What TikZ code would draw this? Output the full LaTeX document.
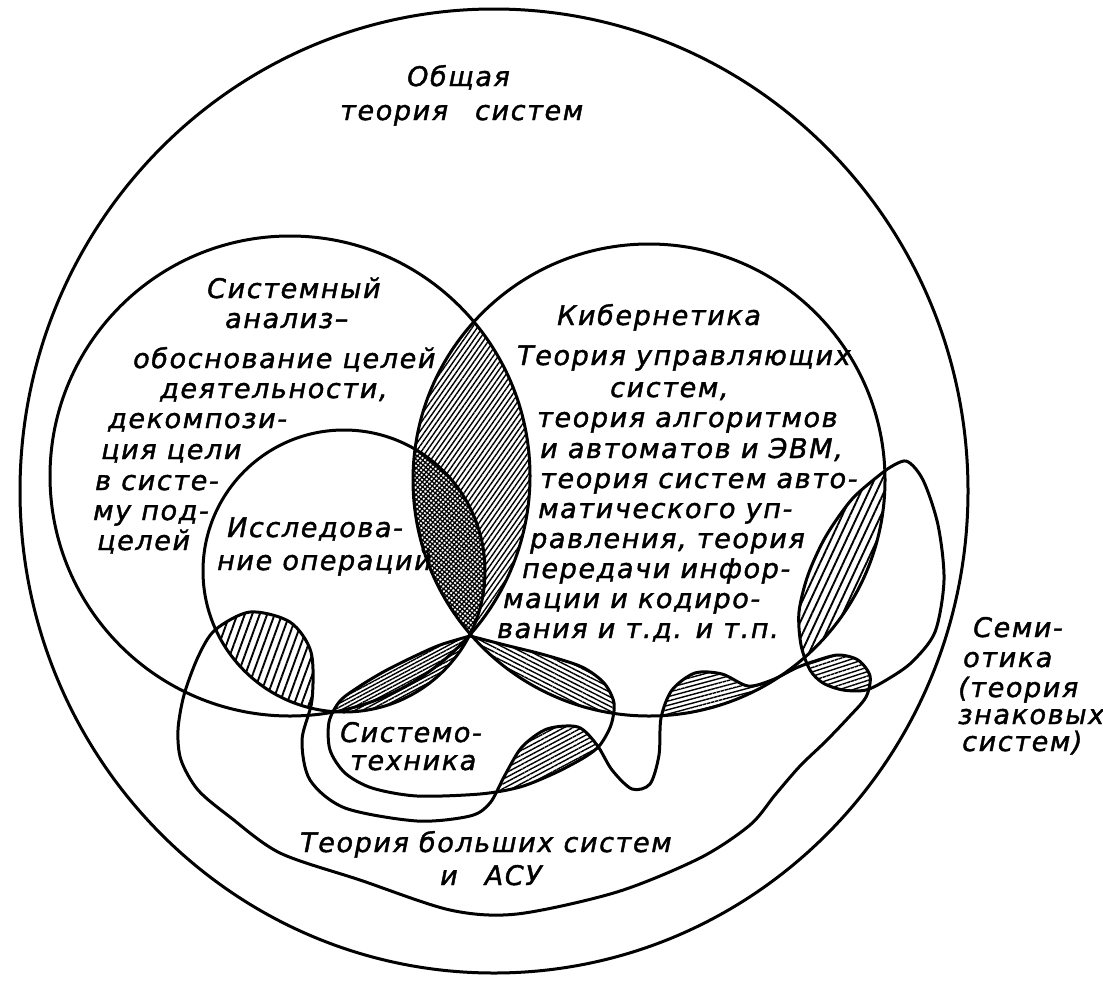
\documentclass[tikz,border=0pt]{standalone}
\usepackage{fontspec}
\setmainfont{DejaVu Sans}[LetterSpace=6,FakeBold=1.5]
\usetikzlibrary{patterns.meta}
\begin{document}
\begin{tikzpicture}[x=1pt,y=-1pt,
  curve/.style={line width=3pt, line join=round, line cap=round},
  lbl/.style={font=\fontsize{27}{30}\selectfont\itshape, inner sep=0pt, anchor=base west},
  hA/.style={pattern={Lines[angle=55,distance=4.2pt,line width=1.4pt]}},
  hXa/.style={pattern={Lines[angle=50,distance=3.4pt,line width=1.3pt]}},
  hXb/.style={pattern={Lines[angle=-40,distance=3.4pt,line width=1.3pt]}},
  hC/.style={pattern={Lines[angle=70,distance=7pt,line width=1.9pt]}},
  hD/.style={pattern={Lines[angle=28,distance=3.4pt,line width=1.4pt]}},
  hE/.style={pattern={Lines[angle=-27,distance=4.2pt,line width=1.4pt]}},
  hF/.style={pattern={Lines[angle=28,distance=4.2pt,line width=1.4pt]}},
  hG/.style={pattern={Lines[angle=15,distance=4.2pt,line width=1.4pt]}},
  hH/.style={pattern={Lines[angle=65,distance=7pt,line width=1.9pt]}},
  hI/.style={pattern={Lines[angle=18,distance=4.2pt,line width=1.4pt]}},
]
\fill[white] (0,0) rectangle (1103,980);
\useasboundingbox (0,0) rectangle (1103,980);
\def\pOC{(494,491) ellipse[x radius=474, y radius=482]}
\def\pLC{(290,476) circle[radius=240]}
\def\pRC{(649,480) circle[radius=236]}
\def\pIC{(344,571) circle[radius=141]}
\def\pBS{plot[smooth cycle] coordinates {(215,630) (250,612) (290,622) (311,652) (312,700) (302,740) (310,780) (345,808) (417,821) (470,816) (490,803) (505,775) (522,747) (547,729) (578,727) (597,745) (612,770) (632,789) (650,784) (659,755) (661,718) (672,690) (695,673) (722,674) (748,686) (772,680) (796,668) (815,661) (838,655) (858,660) (870,676) (866,697) (848,718) (825,742) (800,766) (775,795) (750,825) (700,858) (617,892) (517,914) (450,910) (360,880) (280,853) (230,817) (198,790) (181,760) (178,730) (184,695) (198,657)}}
\def\pST{plot[smooth] coordinates {(470,636) (440,645) (413,657) (385,671) (360,686) (340,701) (329,722) (330,750) (345,773) (372,788) (417,796) (480,794) (520,787) (555,773) (585,757) (600,745) (611,725) (614,703) (604,683) (582,667) (545,655) (505,645) (470,636)} -- cycle}
\def\pSE{plot[smooth] coordinates {(886,470) (906,461) (923,480) (938,525) (944,580) (935,632) (912,662) (888,679) (866,690) (843,690) (823,683) (810,670) (801,645) (799,612) (808,575) (826,536) (853,498) (886,470)} -- cycle}
% hatched intersections
\begin{scope}\clip \pLC; \fill[hA] \pRC; \end{scope}
\begin{scope}\clip \pIC; \fill[white] \pRC; \fill[hXa] \pRC; \fill[hXb] \pRC; \end{scope}
\begin{scope}\clip \pIC; \fill[hC] \pBS; \end{scope}
\begin{scope}\clip \pST; \fill[hD] \pIC; \end{scope}
\begin{scope}\clip \pST; \fill[hE] \pRC; \end{scope}
\begin{scope}\clip \pST; \fill[hF] \pBS; \end{scope}
\begin{scope}\clip \pRC; \fill[hG] \pBS; \end{scope}
\begin{scope}\clip \pSE; \fill[hH] \pRC; \end{scope}
\begin{scope}\clip \pSE; \fill[hI] \pBS; \end{scope}
% outlines
\draw[curve] \pOC;
\draw[curve] \pLC;
\draw[curve] \pRC;
\draw[curve] \pIC;
\draw[curve] \pBS;
\draw[curve] \pST;
\draw[curve] \pSE;
% texts
\node[lbl] (t1) at (407,86) {Общая};
\node[lbl] (t2) at (340,120) {теория\hspace{1em}систем};
\node[lbl] (l1) at (207,298) {Системный};
\node[lbl] (l2) at (225,328) {анализ–};
\node[lbl] (l3) at (133,368) {обоснование целей};
\node[lbl] (l4) at (160,398) {деятельности,};
\node[lbl] (l5) at (108,428) {декомпози-};
\node[lbl] (l6) at (101,459) {ция цели};
\node[lbl] (l7) at (95,490) {в систе-};
\node[lbl] (l8) at (93,520) {му под-};
\node[lbl] (l9) at (97,550) {целей};
\node[lbl] (o1) at (227,537) {Исследова-};
\node[lbl] (o2) at (217,570) {ние операций};
\node[lbl] (k1) at (557,325) {Кибернетика};
\node[lbl] (k2) at (517,365) {Теория управляющих};
\node[lbl] (k3) at (610,397) {систем,};
\node[lbl] (k4) at (537,427) {теория алгоритмов};
\node[lbl] (k5) at (540,458) {и автоматов и ЭВМ,};
\node[lbl] (k6) at (540,488) {теория систем авто-};
\node[lbl] (k7) at (538,518) {матического уп-};
\node[lbl] (k8) at (530,548) {равления, теория};
\node[lbl] (k9) at (522,578) {передачи инфор-};
\node[lbl] (k10) at (503,608) {мации и кодиро-};
\node[lbl] (k11) at (497,638) {вания и т.д. и т.п.};
\node[lbl] (s1) at (340,742) {Системо-};
\node[lbl] (s2) at (350,770) {техника};
\node[lbl] (b1) at (300,852) {Теория больших систем};
\node[lbl] (b2) at (440,885) {и\hspace{1em}АСУ};
\node[lbl] (e1) at (973,637) {Семи-};
\node[lbl] (e2) at (963,667) {отика};
\node[lbl] (e3) at (958,697) {(теория};
\node[lbl] (e4) at (958,724) {знаковых};
\node[lbl] (e5) at (962,751) {систем)};
\end{tikzpicture}
\end{document}
